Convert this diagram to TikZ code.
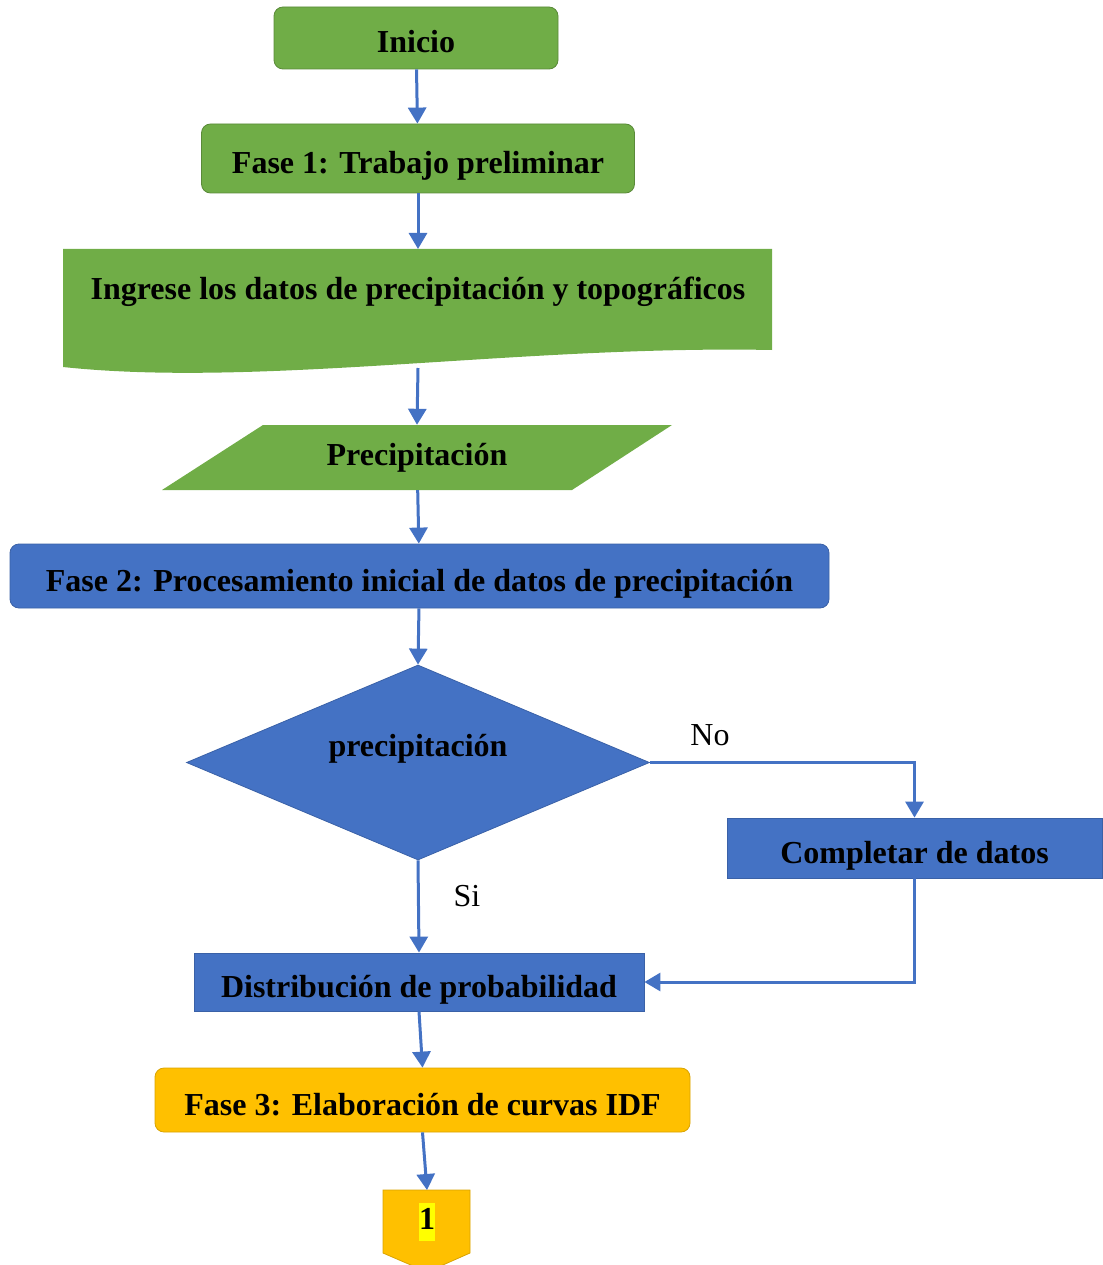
\documentclass[tikz,border=0pt]{standalone}
\usepackage{fontspec}
\setmainfont{Liberation Serif}
\usepackage{xcolor}
\usetikzlibrary{shapes.geometric,arrows.meta,positioning}
\definecolor{verde}{HTML}{70AD47}
\definecolor{azul}{HTML}{4472C4}
\definecolor{ambar}{HTML}{FFC000}
\definecolor{resaltado}{HTML}{FFFF00}
\newcommand{\resaltar}[1]{{\setlength{\fboxsep}{0pt}\colorbox{resaltado}{\strut #1}}}

\begin{document}
\begin{tikzpicture}[x=1pt,y=-1pt,
        font=\fontsize{32}{38}\selectfont\bfseries,
        texto/.style={text height=30pt,text depth=0pt},
        faseverde/.style={rectangle,texto,rounded corners=9pt,draw=verde!80!black,fill=verde,line width=0.8pt},
        faseazul/.style={rectangle,texto,rounded corners=9pt,draw=azul!85!black,fill=azul,line width=0.8pt},
        faseambar/.style={rectangle,texto,rounded corners=9pt,draw=ambar!85!black,fill=ambar,line width=0.8pt},
        proceso/.style={rectangle,texto,draw=azul!85!black,fill=azul,line width=0.8pt},
        decision/.style={diamond,aspect=2.4,draw=azul!85!black,fill=azul,line width=0.8pt,inner sep=0pt},
        hueco/.style={rectangle,inner sep=0pt},
        etiqueta/.style={font=\fontsize{32}{38}\selectfont\mdseries},
        flecha/.style={-{Triangle[width=18pt,length=16pt]},draw=azul,line width=3pt},
        ]

        \useasboundingbox (0,0) rectangle (1102,1265);

        % Fase 1
        \node[faseverde,minimum width=284pt,minimum height=62pt] (inicio) at (416,38) {Inicio};
        \node[faseverde,minimum width=433pt,minimum height=69pt] (fase1) at (418,158.5) {Fase 1: Trabajo preliminar};

        % Documento de entrada
        \fill[verde] (63,249) -- (772,249) -- (772,350)
            .. controls (520,345) and (260,388) .. (63,367) -- cycle;
        \node[hueco,texto,anchor=north,minimum width=709pt,minimum height=70pt] (datos) at (418,249)
            {Ingrese los datos de precipitación y topográficos};
        \coordinate (datosbase) at (418,368);

        % Dato de entrada
        \fill[verde] (263,425) -- (672,425) -- (572,490) -- (162,490) -- cycle;
        \node[hueco,minimum width=410pt,minimum height=65pt] (precip) at (417,457.5) {Precipitación};

        % Fase 2
        \node[faseazul,minimum width=819pt,minimum height=64pt] (fase2) at (419.5,576)
            {Fase 2: Procesamiento inicial de datos de precipitación};
        \node[decision,minimum width=463pt,minimum height=195pt,text height=22pt,text depth=35pt] (control) at (418,762.5)
            {precipitación};
        \node[proceso,minimum width=375pt,minimum height=60pt] (completar) at (914.5,848) {Completar de datos};
        \node[proceso,minimum width=450pt,minimum height=58pt] (distrib) at (419,982) {Distribución de probabilidad};

        % Fase 3
        \node[faseambar,minimum width=535pt,minimum height=64pt] (fase3) at (422.5,1100) {Fase 3: Elaboración de curvas IDF};
        \filldraw[fill=ambar,draw=ambar!85!black,line width=0.8pt]
            (383,1190) -- (470,1190) -- (470,1253) -- (427,1272) -- (383,1253) -- cycle;
        \node[hueco,anchor=north,minimum width=87pt,minimum height=64pt] (conector) at (427,1190) {\resaltar{1}};

        % Etiquetas
        \node[etiqueta] (no) at (710,735) {No};
        \node[etiqueta] (si) at (467,896) {Si};

        % Conexiones
        \draw[flecha] (inicio) -- (fase1);
        \draw[flecha] (fase1) -- (datos.north);
        \draw[flecha] (datosbase) -- (precip.north);
        \draw[flecha] (precip) -- (fase2);
        \draw[flecha] (fase2) -- (control.north);
        \draw[flecha] (control.east) -| (completar.north);
        \draw[flecha] (completar.south) |- (distrib.east);
        \draw[flecha] (control.south) -- (distrib.north);
        \draw[flecha] (distrib.south) -- (fase3.north);
        \draw[flecha] (fase3.south) -- (conector.north);
    \end{tikzpicture}
\end{document}
